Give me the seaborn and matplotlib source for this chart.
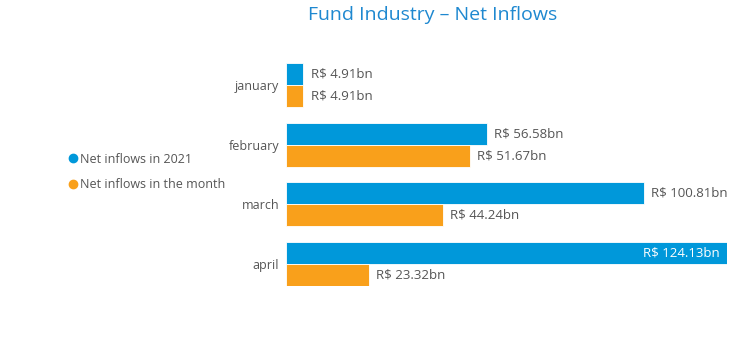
import pandas as pd
import matplotlib.pyplot as plt
import seaborn as sns
from matplotlib.lines import Line2D

months = ['january', 'february', 'march', 'april']
inflows_2021 = [4.91, 56.58, 100.81, 124.13]
inflows_month = [4.91, 51.67, 44.24, 23.32]
series_names = ['Net inflows in 2021', 'Net inflows in the month']
colors = ['#0098DA', '#F9A01B']

df = pd.DataFrame({
    'month': months * 2,
    'value': inflows_2021 + inflows_month,
    'series': [series_names[0]] * 4 + [series_names[1]] * 4,
})

sns.set_theme(style='white')
plt.rcParams['font.family'] = ['Open Sans', 'DejaVu Sans']

fig = plt.figure(figsize=(7.5, 3.55), dpi=100)
ax = fig.add_axes([286 / 750, 69 / 355, 441 / 750, 223 / 355])

sns.barplot(data=df, y='month', x='value', hue='series', orient='h',
            palette=colors, saturation=1, width=0.742, edgecolor='white',
            linewidth=0.6, legend=False, ax=ax)

ax.set_xlim(0, max(inflows_2021))
ax.set_ylim(3.375, -0.375)
ax.set_xlabel('')
ax.set_ylabel('')
ax.set_xticks([])
ax.tick_params(axis='y', length=0, pad=5, labelsize=9, labelcolor='#555555')
sns.despine(ax=ax, left=True, bottom=True)

# value labels
for cont in ax.containers:
    for bar in cont:
        w = bar.get_width()
        yc = bar.get_y() + bar.get_height() / 2
        txt = f'R$ {w:.2f}bn'
        if w > 110:
            ax.text(w - 2, yc, txt, ha='right', va='center', fontsize=9.5, color='white')
        else:
            ax.text(w + 2, yc, txt, ha='left', va='center', fontsize=9.5, color='#555555')

fig.text(433 / 750, 1 - 15 / 355, 'Fund Industry – Net Inflows', ha='center', va='center',
         fontsize=14, color='#1E88D0')

handles = [Line2D([], [], marker='o', linestyle='', markersize=6, color=c) for c in colors]
fig.legend(handles, series_names, loc='center left', bbox_to_anchor=(55 / 750, 1 - 172 / 355),
           frameon=False, fontsize=9, labelcolor='#555555', handletextpad=0.1,
           handlelength=1.0, labelspacing=1.0)

fig.savefig('out.png', dpi=100)
